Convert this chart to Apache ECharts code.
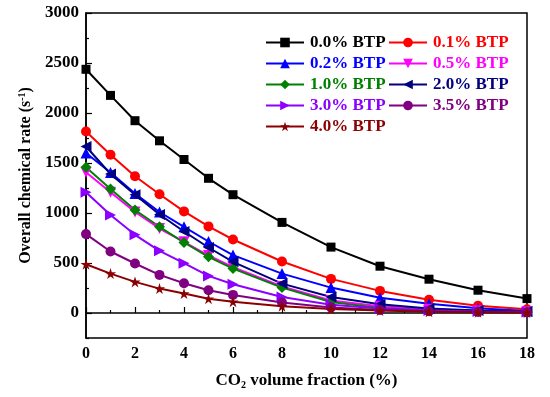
<!DOCTYPE html>
<html><head><meta charset="utf-8">
<script src="https://cdn.jsdelivr.net/npm/echarts@6/dist/echarts.min.js"></script>
<style>html,body{margin:0;padding:0;background:#fff}#c{width:550px;height:397px}</style>
</head><body><div id="c"></div>
<script>
const xValues = [0,1,2,3,4,5,6,8,10,12,14,16,18];
const btp00 = [2437,2176,1923,1722,1535,1347,1183,906,659,468,338,228,144];
const btp01 = [1815,1582,1368,1187,1016,866,735,515,341,221,133,73,37];
const btp02 = [1600,1405,1195,1010,862,715,579,394,254,153,93,47,20];
const btp05 = [1407,1207,1010,845,712,575,458,265,125,68,38,22,12];
const btp10 = [1458,1240,1030,862,705,562,444,254,110,50,25,14,8];
const btp20 = [1665,1390,1183,985,815,655,512,294,160,87,45,25,14];
const btp30 = [1207,980,782,622,498,371,288,160,82,45,25,15,9];
const btp35 = [789,615,495,381,298,228,181,105,55,30,17,10,5];
const btp40 = [488,394,311,244,194,143,113,68,40,24,12,8,4];
const yTickLabels = [0,500,1000,1500,2000,2500,3000];
const yMinorTicks = [-250,250,750,1250,1750,2250,2750];

const seriesDefs = [
  {name:'0.0% BTP', data:btp00, color:'#000000', symbol:'rect'},
  {name:'0.1% BTP', data:btp01, color:'#FF0000', symbol:'circle'},
  {name:'0.2% BTP', data:btp02, color:'#0000FF', symbol:'triangle'},
  {name:'0.5% BTP', data:btp05, color:'#FF00FF', symbol:'path://M0,0 L10,0 L5,9 Z'},
  {name:'1.0% BTP', data:btp10, color:'#008000', symbol:'diamond'},
  {name:'2.0% BTP', data:btp20, color:'#000080', symbol:'path://M0,5 L9,0 L9,10 Z'},
  {name:'3.0% BTP', data:btp30, color:'#8B00FF', symbol:'path://M0,0 L9,5 L0,10 Z'},
  {name:'3.5% BTP', data:btp35, color:'#800080', symbol:'circle'},
  {name:'4.0% BTP', data:btp40, color:'#8B0000', symbol:'path://M5,0 L6.18,3.82 L10,3.82 L6.91,6.18 L8.09,10 L5,7.64 L1.91,10 L3.09,6.18 L0,3.82 L3.82,3.82 Z'}
];
const FONT = '"Liberation Serif","Times New Roman",serif';

const series = seriesDefs.map(d => ({
  name: d.name, type: 'line', xAxisIndex: 0, yAxisIndex: 0,
  data: xValues.map((x,i) => [x, d.data[i]]),
  symbol: d.symbol, symbolSize: d.symbol==='circle' ? 10 : (d.symbol==='rect' ? 9 : 11),
  itemStyle: {color: d.color},
  lineStyle: {color: d.color, width: 2},
  emphasis: {disabled: true}, animation: false
}));

function legendCol(names, left){
  return {
    orient: 'vertical', left: left, top: 34, padding: 0, itemWidth: 38, itemHeight: 12, itemGap: 4,
    data: names.map(n => ({name: n, textStyle: {color: seriesDefs.find(d=>d.name===n).color}})),
    textStyle: {fontFamily: FONT, fontWeight: 'bold', fontSize: 17, padding: [0,0,0,1]},
    selectedMode: false
  };
}

const chart = echarts.init(document.getElementById('c'), null, {renderer:'canvas'});
chart.setOption({
  animation: false,
  backgroundColor: '#fff',
  grid: {left: 86, right: 23, top: 13, bottom: 59, show: true, borderColor: '#000', borderWidth: 1.5, backgroundColor: 'transparent'},
  legend: [
    legendCol(['0.0% BTP','0.2% BTP','1.0% BTP','3.0% BTP','4.0% BTP'], 265),
    legendCol(['0.1% BTP','0.5% BTP','2.0% BTP','3.5% BTP'], 388)
  ],
  xAxis: {
    type: 'value', min: 0, max: 18, interval: 2,
    name: 'CO{sub|2} volume fraction (%)', nameLocation: 'middle', nameGap: 34,
    nameTextStyle: {fontFamily: FONT, fontWeight: 'bold', fontSize: 17, color: '#000',
      rich: {sub: {fontFamily: FONT, fontWeight: 'bold', fontSize: 10, verticalAlign: 'bottom', padding: [8,0,0,0]}}},
    axisLine: {lineStyle: {color: '#000', width: 1.5}},
    axisTick: {inside: true, length: 6, lineStyle: {color: '#000', width: 1.2}},
    minorTick: {show: true, splitNumber: 2, length: 3, lineStyle: {color: '#000', width: 1.2}},
    axisLabel: {fontFamily: FONT, fontWeight: 'bold', fontSize: 16, color: '#000', margin: 8},
    splitLine: {show: false}, minorSplitLine: {show: false}
  },
  yAxis: [{
    type: 'value', min: -250, max: 3000, interval: 250,
    name: 'Overall chemical rate (s{sup|-1})', nameLocation: 'middle', nameGap: 49,
    nameTextStyle: {fontFamily: FONT, fontWeight: 'bold', fontSize: 16, color: '#000',
      rich: {sup: {fontFamily: FONT, fontWeight: 'bold', fontSize: 10, verticalAlign: 'top', padding: [0,0,8,0]}}},
    axisLine: {show: true, lineStyle: {color: '#000', width: 1.5}},
    axisTick: {inside: true, length: 6, lineStyle: {color: '#000', width: 1.2}, customValues: yTickLabels},
    axisLabel: {customValues: yTickLabels, formatter: v => String(v), fontFamily: FONT, fontWeight: 'bold', fontSize: 17, color: '#000', margin: 7},
    splitLine: {show: false}
  }, {
    type: 'value', min: -250, max: 3000, interval: 250, position: 'left', offset: 0,
    axisLine: {show: false},
    axisTick: {show: true, inside: true, length: 3, lineStyle: {color: '#000', width: 1.2}, customValues: yMinorTicks},
    axisLabel: {show: false}, splitLine: {show: false}
  }],
  series: series
});
</script></body></html>
